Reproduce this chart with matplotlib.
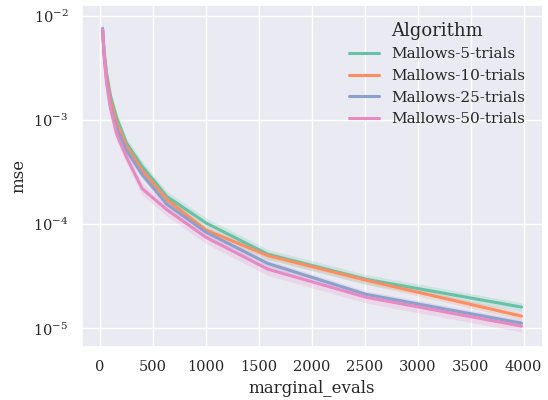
import matplotlib
matplotlib.use("Agg")
import matplotlib.pyplot as plt
import seaborn as sns
import numpy as np

sns.set_theme(style="darkgrid")
plt.rcParams['font.family'] = ['DejaVu Serif']

marginal_evals = [25, 40, 63, 100, 158, 251, 398, 631, 1000, 1585, 2512, 3981]
labels = ["Mallows-5-trials", "Mallows-10-trials", "Mallows-25-trials", "Mallows-50-trials"]

mse_5 = [7.3e-3, 4.5e-3, 2.8e-3, 1.7e-3, 1.05e-3, 6.0e-4, 3.6e-4, 1.85e-4, 1.03e-4, 5.15e-5, 2.96e-5, 1.6e-5]
mse_10 = [7.3e-3, 4.3e-3, 2.6e-3, 1.55e-3, 9.4e-4, 5.6e-4, 3.3e-4, 1.73e-4, 8.8e-5, 5.0e-5, 2.9e-5, 1.31e-5]
mse_25 = [7.6e-3, 4.1e-3, 2.4e-3, 1.35e-3, 8.3e-4, 5.1e-4, 3.0e-4, 1.56e-4, 8.4e-5, 4.2e-5, 2.12e-5, 1.12e-5]
mse_50 = [7.4e-3, 4.0e-3, 2.25e-3, 1.28e-3, 7.3e-4, 4.4e-4, 2.2e-4, 1.38e-4, 7.5e-5, 3.7e-5, 1.99e-5, 1.05e-5]

# relative half-width of the confidence band
ci_5 = [0.18, 0.12, 0.12, 0.12, 0.12, 0.12, 0.12, 0.12, 0.12, 0.11, 0.11, 0.10]
ci_10 = [0.12, 0.08, 0.08, 0.08, 0.08, 0.08, 0.08, 0.08, 0.08, 0.08, 0.08, 0.08]
ci_25 = [0.12, 0.09, 0.09, 0.09, 0.09, 0.09, 0.09, 0.09, 0.08, 0.08, 0.08, 0.08]
ci_50 = [0.15, 0.13, 0.13, 0.13, 0.13, 0.13, 0.13, 0.13, 0.13, 0.13, 0.12, 0.12]

colors = sns.color_palette("Set2", 4)

fig = plt.figure(figsize=(5.48, 4.0), dpi=100)
ax = fig.add_axes([0.149, 0.133, 0.841, 0.855])

x = np.array(marginal_evals)
for lab, m, c, col in zip(labels, [mse_5, mse_10, mse_25, mse_50],
                          [ci_5, ci_10, ci_25, ci_50], colors):
    m = np.array(m)
    c = np.array(c)
    ax.fill_between(x, m * (1 - c), m * (1 + c), color=col, alpha=0.2, linewidth=0)
    ax.plot(x, m, color=col, linewidth=2.2, label=lab)

ax.set_yscale("log")
ax.set_ylim(6.65e-6, 1.28e-2)
ax.set_xlabel("marginal_evals", fontsize=12)
ax.set_ylabel("mse", fontsize=12)
ax.tick_params(labelsize=10.5)
leg = ax.legend(title="Algorithm", loc="upper right", frameon=False, fontsize=11,
                title_fontsize=13, labelspacing=0.5, borderaxespad=0.7)

fig.savefig("out.png", dpi=100)
